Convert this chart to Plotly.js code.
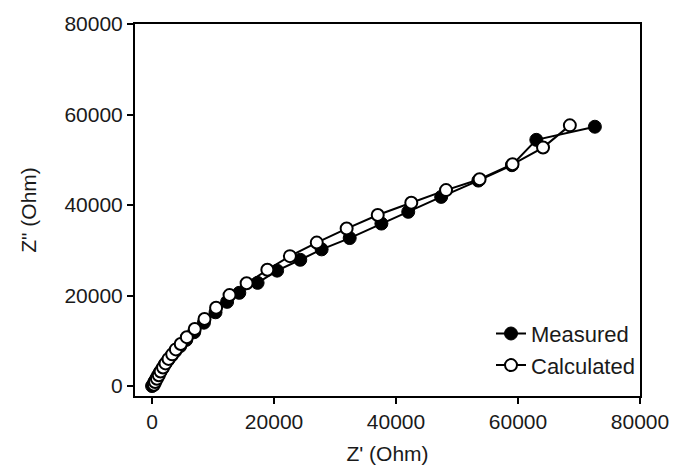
<!DOCTYPE html>
<html>
<head>
<meta charset="utf-8">
<script src="https://cdn.plot.ly/plotly-3.0.1.min.js"></script>
<style>html,body{margin:0;padding:0;background:#fff;}#chart{width:678px;height:472px;}</style>
</head>
<body>
<div id="chart"></div>
<script>
const measuredX = [0, 200, 400, 700, 1000, 1300, 1700, 2100, 2600, 3200, 3800, 4600, 5600, 6900, 8500, 10400, 12300, 14300, 17300, 20500, 24300, 27800, 32400, 37600, 42000, 47400, 53500, 59000, 63000, 72600];
const measuredY = [0, 400, 1000, 1700, 2400, 3100, 3900, 4800, 5700, 6700, 7700, 8800, 10200, 11900, 14000, 16300, 18600, 20600, 22800, 25500, 27900, 30200, 32700, 35900, 38500, 41800, 45400, 48800, 54400, 57300];
const calcX = [300, 500, 800, 1100, 1400, 1800, 2200, 2700, 3300, 3900, 4700, 5700, 7000, 8600, 10500, 12700, 15500, 18900, 22600, 27000, 31900, 37000, 42500, 48200, 53700, 59100, 64100, 68500];
const calcY = [300, 900, 1600, 2400, 3200, 4100, 5000, 6000, 7000, 8100, 9300, 10800, 12600, 14800, 17300, 20100, 22700, 25700, 28700, 31700, 34800, 37800, 40500, 43300, 45700, 49000, 52700, 57600];
const tickVals = [0, 20000, 40000, 60000, 80000];
const tickText = ['0', '20000', '40000', '60000', '80000'];

const font = {family: 'Liberation Sans, Arial, sans-serif', color: '#1a1a1a'};
const fs = 21;

const traces = [
  {
    x: measuredX, y: measuredY, name: 'Measured', type: 'scatter', mode: 'lines+markers',
    line: {color: '#000', width: 2},
    marker: {symbol: 'circle', size: 13, color: '#000', line: {color: '#000', width: 1}}
  },
  {
    x: calcX, y: calcY, name: 'Calculated', type: 'scatter', mode: 'lines+markers',
    line: {color: '#000', width: 2},
    marker: {symbol: 'circle', size: 12, color: '#fff', line: {color: '#000', width: 2}}
  }
];

const layout = {
  width: 678, height: 472,
  margin: {l: 135, r: 38, t: 24, b: 76},
  paper_bgcolor: '#fff', plot_bgcolor: '#fff',
  font: Object.assign({size: fs}, font),
  showlegend: true,
  legend: {
    x: 1, xanchor: 'right', y: 0.025, yanchor: 'bottom',
    bgcolor: 'rgba(0,0,0,0)', font: Object.assign({size: 22}, font),
    tracegroupgap: 0
  },
  xaxis: {
    range: [-2800, 80000], tickmode: 'array', tickvals: tickVals, ticktext: tickText,
    showgrid: false, zeroline: false, showline: true, linecolor: '#000', linewidth: 2,
    mirror: true, ticks: 'outside', ticklen: 6, tickwidth: 2, tickcolor: '#000',
    title: {text: "Z' (Ohm)", font: Object.assign({size: fs}, font), standoff: 14},
    tickfont: Object.assign({size: fs}, font)
  },
  yaxis: {
    range: [-2200, 80000], tickmode: 'array', tickvals: tickVals, ticktext: tickText,
    showgrid: false, zeroline: false, showline: true, linecolor: '#000', linewidth: 2,
    mirror: true, ticks: 'outside', ticklen: 6, tickwidth: 2, tickcolor: '#000',
    title: {text: 'Z" (Ohm)', font: Object.assign({size: fs}, font), standoff: 22},
    tickfont: Object.assign({size: fs}, font)
  }
};

Plotly.newPlot('chart', traces, layout, {displayModeBar: false, staticPlot: true});
</script>
</body>
</html>
